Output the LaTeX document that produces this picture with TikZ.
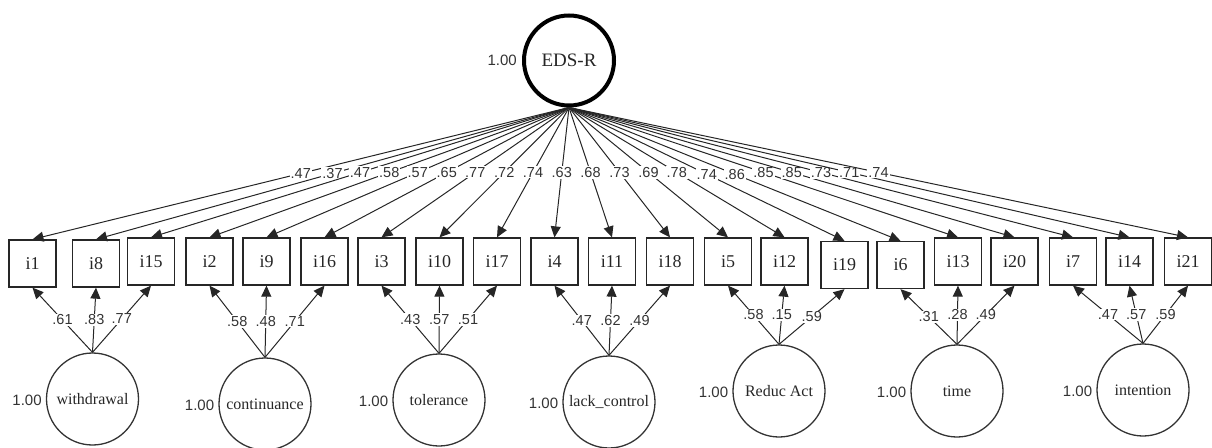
\documentclass[tikz,border=0pt]{standalone}
\usepackage{fontspec}
\setmainfont{Liberation Serif}
\newfontfamily\serfont{Liberation Serif}
\newfontfamily\numfont{Liberation Sans}
\usetikzlibrary{arrows.meta}
\begin{document}
\begin{tikzpicture}[x=1pt,y=-1pt,
  itembox/.style={draw=black!85, line width=1.3pt, minimum width=47pt, minimum height=47pt, inner sep=0pt, font=\serfont\fontsize{18}{18}\selectfont, text=black!85},
  latent/.style={circle, draw=black!80, line width=1.3pt, minimum size=92pt, inner sep=0pt, font=\serfont\fontsize{16}{16}\selectfont, text=black!85},
  edge/.style={draw=black!85, line width=1pt, -{Triangle[length=11pt,width=10pt]}},
  elab/.style={fill=white, inner sep=1pt, font=\numfont\fontsize{14.5}{14.5}\selectfont, text=black!80},
  varlab/.style={anchor=east, inner sep=0pt, font=\numfont\fontsize{15}{15}\selectfont, text=black!80}
]
\useasboundingbox (0,0) rectangle (1212,447);

% top latent
\node[latent, draw=black, line width=4pt, minimum size=90pt, font=\serfont\fontsize{19}{19}\selectfont] (eds) at (569,60.5) {EDS-R};
\node[varlab] (veds) at ([xshift=-5pt]eds.west) {1.00};

% items
\node[itembox] (i1)  at (32.5,263.5) {i1};
\node[itembox] (i8)  at (96,263.5) {i8};
\node[itembox] (i15) at (151,261.5) {i15};
\node[itembox] (i2)  at (209.5,261.5) {i2};
\node[itembox] (i9)  at (266.5,261.5) {i9};
\node[itembox] (i16) at (324.5,261.5) {i16};
\node[itembox] (i3)  at (381.5,261.5) {i3};
\node[itembox] (i10) at (439.5,261.5) {i10};
\node[itembox] (i17) at (497,261.5) {i17};
\node[itembox] (i4)  at (554.5,261.5) {i4};
\node[itembox] (i11) at (612,261.5) {i11};
\node[itembox] (i18) at (670,261.5) {i18};
\node[itembox] (i5)  at (728,261.5) {i5};
\node[itembox] (i12) at (784.5,261.5) {i12};
\node[itembox] (i19) at (844.5,265) {i19};
\node[itembox] (i6)  at (900.5,265) {i6};
\node[itembox] (i13) at (958,261.5) {i13};
\node[itembox] (i20) at (1014.5,261.5) {i20};
\node[itembox] (i7)  at (1073,261.5) {i7};
\node[itembox] (i14) at (1129.5,261.5) {i14};
\node[itembox] (i21) at (1188,261.5) {i21};

% general factor loadings
\draw[edge] (eds.south) -- node[elab]{.47} (i1.north);
\draw[edge] (eds.south) -- node[elab]{.37} (i8.north);
\draw[edge] (eds.south) -- node[elab]{.47} (i15.north);
\draw[edge] (eds.south) -- node[elab]{.58} (i2.north);
\draw[edge] (eds.south) -- node[elab]{.57} (i9.north);
\draw[edge] (eds.south) -- node[elab]{.65} (i16.north);
\draw[edge] (eds.south) -- node[elab]{.77} (i3.north);
\draw[edge] (eds.south) -- node[elab]{.72} (i10.north);
\draw[edge] (eds.south) -- node[elab]{.74} (i17.north);
\draw[edge] (eds.south) -- node[elab]{.63} (i4.north);
\draw[edge] (eds.south) -- node[elab]{.68} (i11.north);
\draw[edge] (eds.south) -- node[elab]{.73} (i18.north);
\draw[edge] (eds.south) -- node[elab]{.69} (i5.north);
\draw[edge] (eds.south) -- node[elab]{.78} (i12.north);
\draw[edge] (eds.south) -- node[elab]{.74} (i19.north);
\draw[edge] (eds.south) -- node[elab]{.86} (i6.north);
\draw[edge] (eds.south) -- node[elab]{.85} (i13.north);
\draw[edge] (eds.south) -- node[elab]{.85} (i20.north);
\draw[edge] (eds.south) -- node[elab]{.73} (i7.north);
\draw[edge] (eds.south) -- node[elab]{.71} (i14.north);
\draw[edge] (eds.south) -- node[elab]{.74} (i21.north);

% specific factors
\node[latent] (wd) at (92.5,399) {withdrawal};
\node[latent] (co) at (265,404) {continuance};
\node[latent] (to) at (439,400) {tolerance};
\node[latent] (lc) at (609,402) {lack\_control};
\node[latent] (ra) at (779,391) {Reduc Act};
\node[latent] (ti) at (957,391) {time};
\node[latent] (in) at (1143,390) {intention};

\node[varlab] (vwd) at ([xshift=-4pt,yshift=-1pt]wd.west) {1.00};
\node[varlab] (vco) at ([xshift=-4pt,yshift=-1pt]co.west) {1.00};
\node[varlab] (vto) at ([xshift=-4pt,yshift=-1pt]to.west) {1.00};
\node[varlab] (vlc) at ([xshift=-4pt,yshift=-1pt]lc.west) {1.00};
\node[varlab] (vra) at ([xshift=-4pt,yshift=-1pt]ra.west) {1.00};
\node[varlab] (vti) at ([xshift=-4pt,yshift=-1pt]ti.west) {1.00};
\node[varlab] (vin) at ([xshift=-4pt,yshift=-1pt]in.west) {1.00};

\draw[edge] (wd.north) -- node[elab]{.61} (i1.south);
\draw[edge] (wd.north) -- node[elab]{.83} (i8.south);
\draw[edge] (wd.north) -- node[elab]{.77} (i15.south);
\draw[edge] (co.north) -- node[elab]{.58} (i2.south);
\draw[edge] (co.north) -- node[elab]{.48} (i9.south);
\draw[edge] (co.north) -- node[elab]{.71} (i16.south);
\draw[edge] (to.north) -- node[elab]{.43} (i3.south);
\draw[edge] (to.north) -- node[elab]{.57} (i10.south);
\draw[edge] (to.north) -- node[elab]{.51} (i17.south);
\draw[edge] (lc.north) -- node[elab]{.47} (i4.south);
\draw[edge] (lc.north) -- node[elab]{.62} (i11.south);
\draw[edge] (lc.north) -- node[elab]{.49} (i18.south);
\draw[edge] (ra.north) -- node[elab]{.58} (i5.south);
\draw[edge] (ra.north) -- node[elab]{.15} (i12.south);
\draw[edge] (ra.north) -- node[elab]{.59} (i19.south);
\draw[edge] (ti.north) -- node[elab]{.31} (i6.south);
\draw[edge] (ti.north) -- node[elab]{.28} (i13.south);
\draw[edge] (ti.north) -- node[elab]{.49} (i20.south);
\draw[edge] (in.north) -- node[elab]{.47} (i7.south);
\draw[edge] (in.north) -- node[elab]{.57} (i14.south);
\draw[edge] (in.north) -- node[elab]{.59} (i21.south);
\end{tikzpicture}
\end{document}
